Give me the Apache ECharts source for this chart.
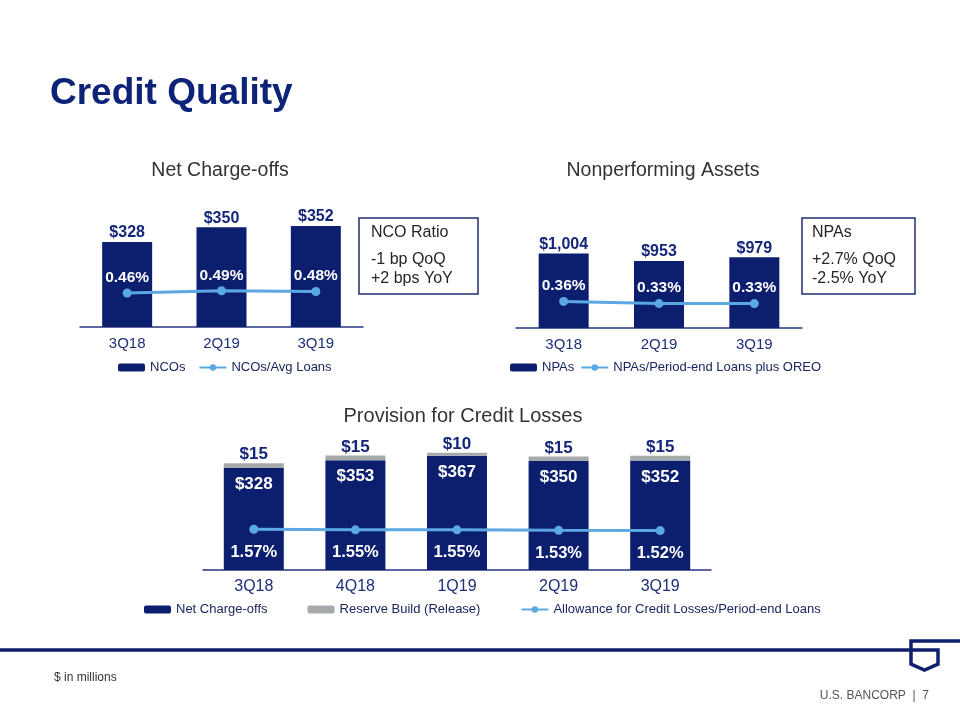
<!DOCTYPE html>
<html>
<head>
<meta charset="utf-8">
<script src="https://cdn.jsdelivr.net/npm/echarts@6/dist/echarts.min.js"></script>
<style>
html,body{margin:0;padding:0;background:#fff;}
#main{width:960px;height:720px;}
</style>
</head>
<body>
<div id="main"></div>
<script>
// ---- data ----
const ncoCategories = ['3Q18', '2Q19', '3Q19'];
const ncoValues = [328, 350, 352];
const ncoRatio = [0.46, 0.49, 0.48];

const npaCategories = ['3Q18', '2Q19', '3Q19'];
const npaValues = [1004, 953, 979];
const npaRatio = [0.36, 0.33, 0.33];

const provCategories = ['3Q18', '4Q18', '1Q19', '2Q19', '3Q19'];
const provNetChargeOffs = [328, 353, 367, 350, 352];
const provReserveBuild = [15, 15, 10, 15, 15];
const provAllowanceRatio = [1.57, 1.55, 1.55, 1.53, 1.52];

// ---- styles ----
const FONT = 'Arial, "Liberation Sans", sans-serif';
const NAVY = '#0c1f6e';
const LABEL_NAVY = '#14267a';
const LIGHT = '#5ba8e2';
const GRAY = '#a7aaad';
const AXIS = '#26367f';

const money = v => '$' + Number(v).toLocaleString('en-US');
const pct = v => Number(v).toFixed(2) + '%';

function xAxisFor(idx, cats, size) {
  return {
    type: 'category', gridIndex: idx, data: cats,
    axisLine: { lineStyle: { color: AXIS, width: 1.5 } },
    axisTick: { show: false },
    axisLabel: { color: '#1c2f78', fontSize: size, fontFamily: FONT, margin: 9 }
  };
}
function yAxisFor(idx, min, max) {
  return { type: 'value', gridIndex: idx, min: min, max: max, show: false, splitLine: { show: false } };
}
function lineSeries(name, xi, yi, data, pos, dist, size) {
  return {
    name: name, type: 'line', xAxisIndex: xi, yAxisIndex: yi, data: data,
    symbol: 'circle', symbolSize: 9, z: 5,
    lineStyle: { color: LIGHT, width: 3 },
    itemStyle: { color: LIGHT },
    label: { show: true, position: pos, distance: dist, formatter: p => pct(p.value),
      color: '#fff', fontWeight: 'bold', fontSize: size, fontFamily: FONT }
  };
}
const legendText = { color: '#1b2660', fontSize: 13, fontFamily: FONT };

const chart = echarts.init(document.getElementById('main'), null, { renderer: 'canvas' });

const option = {
  backgroundColor: '#ffffff',
  animation: false,
  textStyle: { fontFamily: FONT },
  grid: [
    { left: 80, top: 194, width: 283, height: 133 },
    { left: 516, top: 195, width: 286, height: 133 },
    { left: 203, top: 430, width: 508, height: 140 }
  ],
  xAxis: [
    xAxisFor(0, ncoCategories, 15),
    xAxisFor(1, npaCategories, 15),
    xAxisFor(2, provCategories, 16)
  ],
  yAxis: [
    yAxisFor(0, 200, 400), yAxisFor(0, 0, 1.8),
    yAxisFor(1, 500, 1400), yAxisFor(1, 0, 1.8),
    yAxisFor(2, 0, 450), yAxisFor(2, 0, 5.4)
  ],
  legend: [
    { left: 118, top: 361, padding: 0, data: ['NCOs', 'NCOs/Avg Loans'], itemWidth: 27, itemHeight: 8, itemGap: 13, textStyle: legendText },
    { left: 510, top: 361, padding: 0, data: ['NPAs', 'NPAs/Period-end Loans plus OREO'], itemWidth: 27, itemHeight: 8, itemGap: 6, textStyle: legendText },
    { left: 144, top: 603, padding: 0, data: ['Net Charge-offs', 'Reserve Build (Release)', 'Allowance for Credit Losses/Period-end Loans'], itemWidth: 27, itemHeight: 8, itemGap: 40, textStyle: legendText }
  ],
  series: [
    {
      name: 'NCOs', type: 'bar', xAxisIndex: 0, yAxisIndex: 0, data: ncoValues, barWidth: 50,
      itemStyle: { color: NAVY },
      label: { show: true, position: 'top', distance: 1, formatter: p => money(p.value),
        color: LABEL_NAVY, fontWeight: 'bold', fontSize: 16, fontFamily: FONT }
    },
    lineSeries('NCOs/Avg Loans', 0, 1, ncoRatio, 'top', 3, 15.5),
    {
      name: 'NPAs', type: 'bar', xAxisIndex: 1, yAxisIndex: 2, data: npaValues, barWidth: 50,
      itemStyle: { color: NAVY },
      label: { show: true, position: 'top', distance: 1, formatter: p => money(p.value),
        color: LABEL_NAVY, fontWeight: 'bold', fontSize: 16, fontFamily: FONT }
    },
    lineSeries('NPAs/Period-end Loans plus OREO', 1, 3, npaRatio, 'top', 3, 15.5),
    {
      name: 'Net Charge-offs', type: 'bar', stack: 'prov', xAxisIndex: 2, yAxisIndex: 4, data: provNetChargeOffs, barWidth: 60,
      itemStyle: { color: NAVY },
      label: { show: true, position: 'insideTop', distance: 8, formatter: p => money(p.value),
        color: '#fff', fontWeight: 'bold', fontSize: 17, fontFamily: FONT }
    },
    {
      name: 'Reserve Build (Release)', type: 'bar', stack: 'prov', xAxisIndex: 2, yAxisIndex: 4, data: provReserveBuild, barWidth: 60,
      itemStyle: { color: GRAY },
      label: { show: true, position: 'top', distance: 0, formatter: p => money(p.value),
        color: LABEL_NAVY, fontWeight: 'bold', fontSize: 17, fontFamily: FONT }
    },
    lineSeries('Allowance for Credit Losses/Period-end Loans', 2, 5, provAllowanceRatio, 'bottom', 10, 16.5)
  ],
  graphic: [
    { type: 'text', style: { text: 'Credit Quality', x: 50, y: 94, textVerticalAlign: 'middle', font: 'bold 37px ' + FONT, fill: '#0d2377' } },
    { type: 'text', style: { text: 'Net Charge-offs', x: 220, y: 171, textAlign: 'center', textVerticalAlign: 'middle', font: '19.5px ' + FONT, fill: '#333' } },
    { type: 'text', style: { text: 'Nonperforming Assets', x: 663, y: 171, textAlign: 'center', textVerticalAlign: 'middle', font: '19.5px ' + FONT, fill: '#333' } },
    { type: 'text', style: { text: 'Provision for Credit Losses', x: 463, y: 416, textAlign: 'center', textVerticalAlign: 'middle', font: '20px ' + FONT, fill: '#333' } },
    { type: 'rect', shape: { x: 359, y: 218, width: 119, height: 76 }, style: { fill: 'none', stroke: '#1f2d6d', lineWidth: 1.5 } },
    { type: 'text', style: { text: 'NCO Ratio', x: 371, y: 232.5, textVerticalAlign: 'middle', font: '16px ' + FONT, fill: '#262626' } },
    { type: 'text', style: { text: '-1 bp QoQ', x: 371, y: 260, textVerticalAlign: 'middle', font: '16px ' + FONT, fill: '#262626' } },
    { type: 'text', style: { text: '+2 bps YoY', x: 371, y: 279, textVerticalAlign: 'middle', font: '16px ' + FONT, fill: '#262626' } },
    { type: 'rect', shape: { x: 802, y: 218, width: 113, height: 76 }, style: { fill: 'none', stroke: '#1f2d6d', lineWidth: 1.5 } },
    { type: 'text', style: { text: 'NPAs', x: 812, y: 232.5, textVerticalAlign: 'middle', font: '16px ' + FONT, fill: '#262626' } },
    { type: 'text', style: { text: '+2.7% QoQ', x: 812, y: 260, textVerticalAlign: 'middle', font: '16px ' + FONT, fill: '#262626' } },
    { type: 'text', style: { text: '-2.5% YoY', x: 812, y: 279, textVerticalAlign: 'middle', font: '16px ' + FONT, fill: '#262626' } },
    { type: 'polyline', shape: { points: [[0, 650], [938, 650], [938, 664], [924.5, 670], [911, 664], [911, 641], [960, 641]] },
      style: { stroke: '#0f1f6b', lineWidth: 3.5, fill: 'none' } },
    { type: 'text', style: { text: '$ in millions', x: 54, y: 678, textVerticalAlign: 'middle', font: '12px ' + FONT, fill: '#333' } },
    { type: 'text', style: { text: 'U.S. BANCORP  |  7', x: 929, y: 696, textAlign: 'right', textVerticalAlign: 'middle', font: '12px ' + FONT, fill: '#555' } }
  ]
};
chart.setOption(option);
</script>
</body>
</html>
